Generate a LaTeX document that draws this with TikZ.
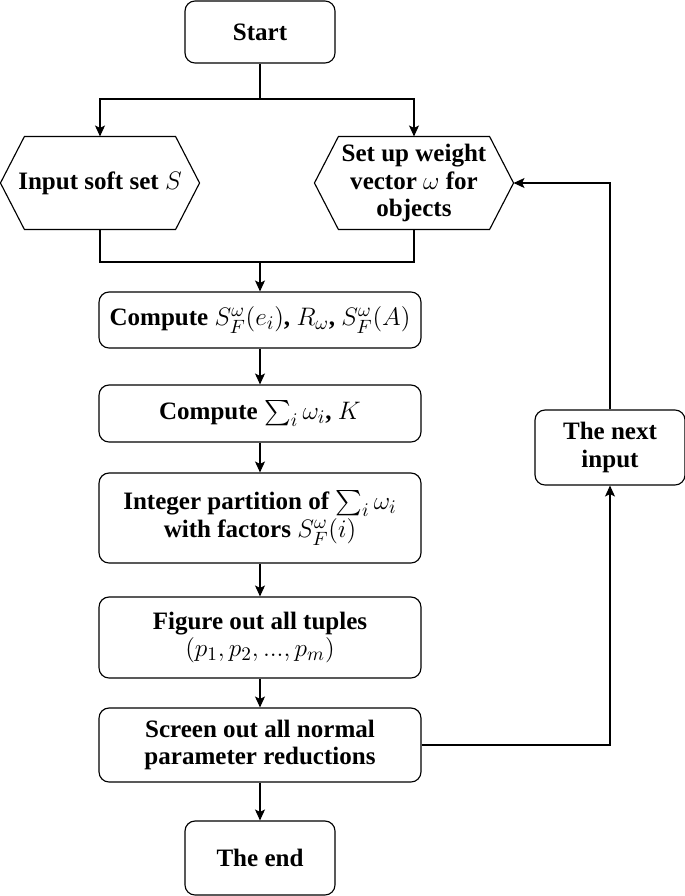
\documentclass[tikz,border=0pt]{standalone}
\usepackage{fontspec}
\setmainfont{Liberation Serif}[Scale=0.95]
\usepackage{amsmath}
\usetikzlibrary{arrows.meta, calc}

\tikzset{
    box/.style={draw, rounded corners=0.2cm, align=center, font=\bfseries, inner sep=2pt},
    hexa/.style={align=center, font=\bfseries, inner sep=0pt, minimum width=3.96cm, minimum height=1.84cm},
    arr/.style={-{Stealth[length=2.2mm, width=2mm, inset=0.5mm]}},
}

\begin{document}
\begin{tikzpicture}[x=0.02cm, y=-0.02cm, line width=0.65pt]
    \fontsize{15}{15.8}\selectfont
    \useasboundingbox (0,0) rectangle (685,896);
    \def\wide{6.44cm}
    \def\small{3cm}
    \def\cut{24}

    % Define the nodes of the chart
    \node[box, minimum width=\small, minimum height=1.24cm] (start) at (260,32) {Start};
    \node[hexa] (in) at (100,183) {Input soft set $S$};
    \node[hexa] (wt) at (414,183) {Set up weight\\vector $\omega$ for\\objects};
    \node[box, minimum width=\wide, minimum height=1.12cm] (c1) at (260,320) {Compute $S_F^\omega(e_i)$, $R_\omega$, $S_F^\omega(A)$};
    \node[box, minimum width=\wide, minimum height=1.14cm] (c2) at (260,413.5) {Compute $\sum_i \omega_i$, $K$};
    \node[box, minimum width=\wide, minimum height=1.8cm] (c3) at (260,518) {Integer partition of $\sum_i \omega_i$\\with factors $S_F^\omega(i)$};
    \node[box, minimum width=\wide, minimum height=1.62cm] (c4) at (260,637.5) {Figure out all tuples\\$(p_1, p_2, ..., p_m)$};
    \node[box, minimum width=\wide, minimum height=1.48cm] (c5) at (260,745) {Screen out all normal\\parameter reductions};
    \node[box, minimum width=\small, minimum height=1.48cm] (end) at (260,858) {The end};
    \node[box, minimum width=\small, minimum height=1.5cm] (next) at (610,447.5) {The next\\input};

    % Draw the hexagons round the input nodes
    \foreach \n in {in, wt}
        \draw (\n.west) -- ($(\n.north west)+(\cut,0)$) -- ($(\n.north east)-(\cut,0)$) -- (\n.east)
              -- ($(\n.south east)-(\cut,0)$) -- ($(\n.south west)+(\cut,0)$) -- cycle;

    \coordinate (split) at (260,99);
    \coordinate (merge) at (260,262);

    % Draw the connectors
    \draw (start) -- (split);
    \draw[arr] (split) -| (in);
    \draw[arr] (split) -| (wt);
    \draw (in) |- (merge);
    \draw (wt) |- (merge);
    \draw[arr] (merge) -- (c1);
    \draw[arr] (c1) -- (c2);
    \draw[arr] (c2) -- (c3);
    \draw[arr] (c3) -- (c4);
    \draw[arr] (c4) -- (c5);
    \draw[arr] (c5) -- (end);
    \draw[arr] (c5) -| (next);
    \draw[arr] (next) |- (wt);
\end{tikzpicture}
\end{document}
